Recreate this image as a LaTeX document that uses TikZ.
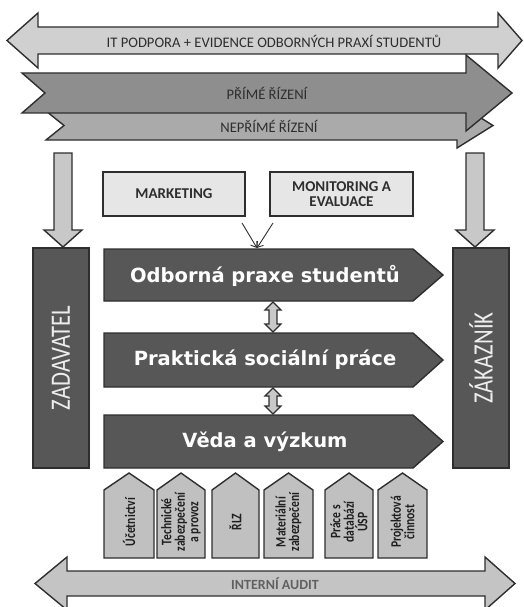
\documentclass[tikz,border=0pt]{standalone}
\usepackage{fontspec}
\setmainfont{Carlito}
\newfontfamily\vfont{DejaVu Sans}
\newfontfamily\condfont[FakeStretch=0.81]{Carlito}
\newfontfamily\smallcond[FakeStretch=0.8]{Carlito Bold}
\newfontfamily\boldcal{Carlito Bold}
\usetikzlibrary{arrows.meta}
\definecolor{darkbox}{HTML}{575757}
\definecolor{edgec}{HTML}{2E2E2E}
\definecolor{topfill}{HTML}{D0D0D0}
\definecolor{primefill}{HTML}{8E8E8E}
\definecolor{neprfill}{HTML}{AAAAAA}
\definecolor{lightfill}{HTML}{E6E6E6}
\definecolor{pentfill}{HTML}{C0C0C0}
\definecolor{auditfill}{HTML}{C4C4C4}
\definecolor{downfill}{HTML}{C8C8C8}
\definecolor{txtdark}{HTML}{2E2E2E}
\begin{document}
\begin{tikzpicture}[x=1pt,y=-1pt,
  outl/.style={draw=edgec, line width=1.4pt, line join=miter},
  caplabel/.style={inner sep=0pt, text=txtdark, font=\fontsize{14.6}{16}\selectfont},
  lightbox/.style={outl, fill=lightfill, minimum width=142pt, minimum height=44pt, inner sep=2pt,
     text=txtdark, font=\boldcal\fontsize{15}{15}\selectfont, align=center},
  sidebox/.style={outl, fill=darkbox, minimum width=220pt, minimum height=56pt, inner sep=0pt,
     rotate=90, text=white!93!black, font=\condfont\fontsize{28}{30}\selectfont},
  mainlabel/.style={inner sep=0pt, text=white, font=\vfont\bfseries\fontsize{19.5}{22}\selectfont},
  pentlabel/.style={inner sep=0pt, rotate=90, align=center, text=black!88,
     font=\smallcond\fontsize{14.5}{13.5}\selectfont},
  vline/.style={draw=edgec, line width=0.9pt, -{Straight Barb[length=5pt,width=8pt]}}
]
\useasboundingbox (0,0) rectangle (523,607);

% top double arrow
\path[outl, fill=topfill] (7,40.5)--(38,13)--(38,27)--(498,27)--(498,13)--(522,40.5)--(498,68)--(498,54)--(38,54)--(38,68)--cycle;
\node[caplabel] (itp) at (274,41) {IT PODPORA + EVIDENCE ODBORNÝCH PRAXÍ STUDENTŮ};

% nepřímé řízení
\path[outl, fill=neprfill] (46,111)--(457,111)--(457,103)--(493,125.5)--(457,148)--(457,140)--(46,140)--(64,125.5)--cycle;
% přímé řízení
\path[outl, fill=primefill] (22,73)--(466,73)--(466,55)--(512,93)--(466,131)--(466,113)--(22,113)--(45,93)--cycle;
\node[caplabel] (prime) at (267,93) {PŘÍMÉ ŘÍZENÍ};
\node[caplabel] (nepr) at (269,126) {NEPŘÍMÉ ŘÍZENÍ};

% down arrows
\path[outl, fill=downfill] (54,153)--(72,153)--(72,230)--(82,230)--(63,247)--(44,230)--(54,230)--cycle;
\path[outl, fill=downfill] (466,153)--(484,153)--(484,230)--(494,230)--(475,247)--(456,230)--(466,230)--cycle;

% side boxes
\node[sidebox] (zad) at (61,358) {ZADAVATEL};
\node[sidebox] (zak) at (481,358) {ZÁKAZNÍK};

% top light boxes
\node[lightbox] (mkt) at (174,194) {MARKETING};
\node[lightbox, minimum width=143pt] (mon) at (341.5,194) {MONITORING A\\EVALUACE};

% main pentagon boxes
\path[outl, fill=darkbox] (104,249)--(413,249)--(443,275)--(413,301)--(104,301)--cycle;
\path[outl, fill=darkbox] (104,333)--(413,333)--(443,360)--(413,387)--(104,387)--cycle;
\path[outl, fill=darkbox] (104,415)--(413,415)--(443,441.5)--(413,468)--(104,468)--cycle;
\node[mainlabel] (ops) at (265,276) {Odborná praxe studentů};
\node[mainlabel] (psp) at (265,360) {Praktická sociální práce};
\node[mainlabel] (vav) at (265,441.5) {Věda a výzkum};

% converging connectors
\coordinate (v1) at (242,223);
\coordinate (v2) at (273,223);
\coordinate (vt) at (257,248);
\draw[vline] (v1) -- (vt);
\draw[vline] (v2) -- (vt);

% small double arrows
\path[outl, line width=1.1pt, fill=downfill] (273,302)--(281,310)--(277,310)--(277,324)--(281,324)--(273,332)--(265,324)--(269,324)--(269,310)--(265,310)--cycle;
\path[outl, line width=1.1pt, fill=downfill] (273,388)--(281,396)--(277,396)--(277,406)--(281,406)--(273,414)--(265,406)--(269,406)--(269,396)--(265,396)--cycle;

% bottom pentagons
\foreach \a/\b in {104/154, 157/205, 212/259, 264/313, 325/373, 378/427}{
  \path[outl, fill=pentfill] (\a,558)--(\a,490)--({(\a+\b)/2},473)--(\b,490)--(\b,558)--cycle;
}
\node[pentlabel] (p1) at (129,522) {Účetnictví};
\node[pentlabel] (p2) at (181,522) {Technické\\zabezpečení\\a provoz};
\node[pentlabel] (p3) at (235.5,522) {ŘLZ};
\node[pentlabel] (p4) at (288.5,522) {Materiální\\zabezpečení};
\node[pentlabel] (p5) at (349,522) {Práce s\\databází\\ÚSP};
\node[pentlabel] (p6) at (402.5,522) {Projektová\\činnost};

% internal audit
\path[outl, fill=auditfill] (35,583.5)--(67,557)--(67,571)--(485,571)--(485,557)--(515,583.5)--(485,610)--(485,596)--(67,596)--(67,610)--cycle;
\node[caplabel, text=black!62, font=\boldcal\fontsize{14}{16}\selectfont] (audit) at (275,584) {INTERNÍ AUDIT};
\end{tikzpicture}
\end{document}
